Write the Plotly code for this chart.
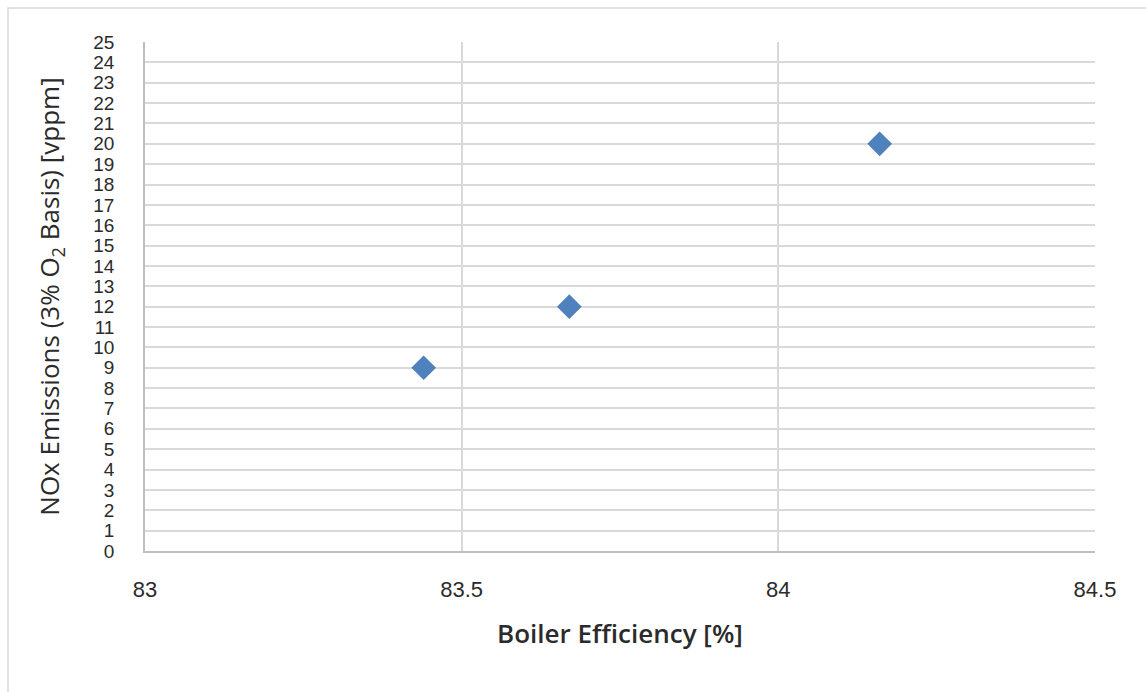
import plotly.graph_objects as go

# Data
boiler_efficiency = [83.44, 83.67, 84.16]
nox_emissions = [9, 12, 20]

x_ticks = [83, 83.5, 84, 84.5]
x_tick_labels = ["83", "83.5", "84", "84.5"]
y_ticks = list(range(0, 26))

W, H = 1146, 692
L, R, T, B = 145, 51, 42, 141
pw, ph = W - L - R, H - T - B

def px_x(x):
    return (x - L) / pw

def px_y(y):
    return (H - B - y) / ph

tick_font = "Liberation Sans, Arial, sans-serif"
title_font = "Open Sans, Liberation Sans, sans-serif"
grid = "#d9d9d9"
text_col = "#2b2b2b"

fig = go.Figure()
fig.add_trace(go.Scatter(
    x=boiler_efficiency, y=nox_emissions, mode="markers",
    marker=dict(symbol="diamond", size=19, color="#4f81bd", line=dict(width=0)),
    showlegend=False, hoverinfo="x+y",
))

fig.update_layout(
    width=W, height=H,
    margin=dict(l=L, r=R, t=T, b=B, autoexpand=False),
    paper_bgcolor="white", plot_bgcolor="white",
    font=dict(family=tick_font, color=text_col),
    showlegend=False,
    xaxis=dict(
        range=[83, 84.5], tickvals=x_ticks, ticktext=x_tick_labels,
        showgrid=True, gridcolor=grid, gridwidth=1.5,
        showline=True, linecolor="#bfbfbf", linewidth=1.5,
        zeroline=False, ticks="", ticklabelstandoff=18,
        tickfont=dict(size=22, color=text_col),
        title=dict(text="Boiler Efficiency [%]", standoff=24,
                   font=dict(family=title_font, size=26, weight=600, color=text_col)),
        automargin=False, fixedrange=True,
    ),
    yaxis=dict(
        range=[0, 25], tickvals=y_ticks,
        showgrid=True, gridcolor=grid, gridwidth=1.5,
        showline=True, linecolor="#bfbfbf", linewidth=1.5,
        zeroline=False, ticks="", ticklabelstandoff=25,
        tickfont=dict(size=19, color=text_col),
        title=dict(text="NOx Emissions (3% O<sub>2</sub> Basis) [vppm]", standoff=26,
                   font=dict(family=title_font, size=26, weight=500, color=text_col)),
        automargin=False, fixedrange=True,
    ),
    shapes=[
        dict(type="rect", xref="paper", yref="paper",
             x0=px_x(8), x1=px_x(1160), y0=px_y(710), y1=px_y(8),
             line=dict(color="#d9d9d9", width=1.5), fillcolor="rgba(0,0,0,0)", layer="below"),
    ],
)

fig.write_html("out.html")
